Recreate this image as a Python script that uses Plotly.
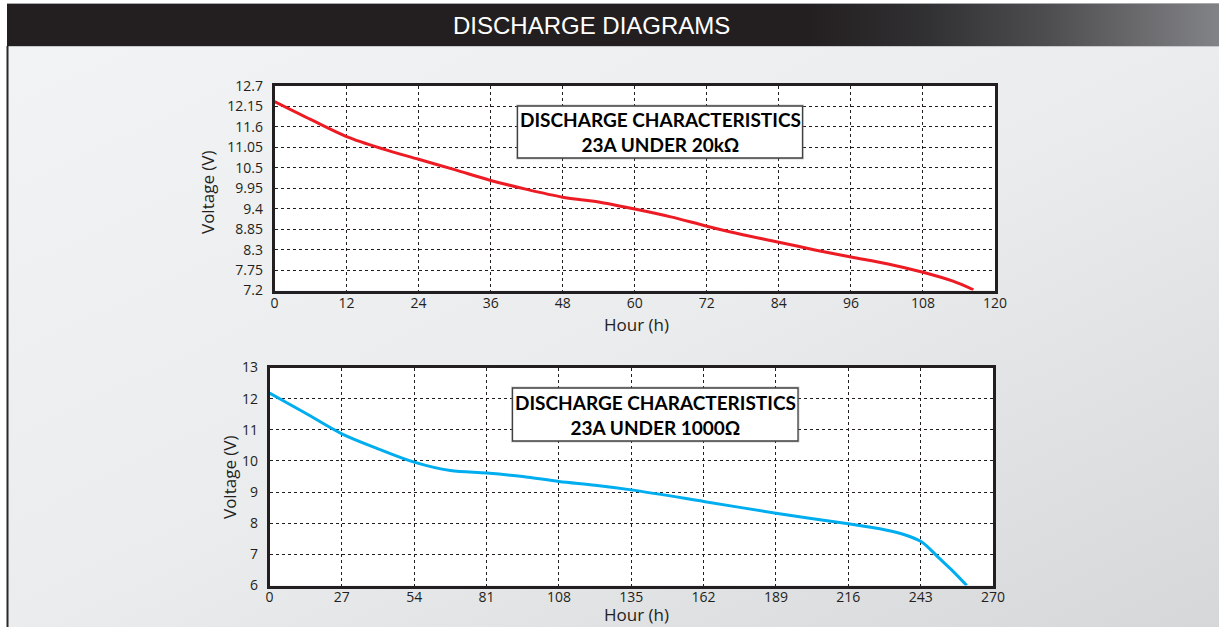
import base64
import plotly.graph_objects as go

# ---------------- data ----------------
top_hours = [0, 6, 12, 18, 24, 30, 36, 42, 48, 51, 54, 60, 66, 72, 78, 84, 90, 96, 102, 108, 113, 116.4]
top_volts = [12.28, 11.80, 11.34, 11.01, 10.73, 10.45, 10.16, 9.92, 9.71, 9.64, 9.58, 9.39, 9.18, 8.93, 8.70, 8.50, 8.29, 8.10, 7.92, 7.69, 7.45, 7.22]

bot_hours = [0, 13.5, 27, 40.5, 54, 67.5, 81, 94.5, 108, 121.5, 135, 162, 189, 216, 229.5, 237, 243, 246, 249.5, 255, 260.2]
bot_volts = [12.18, 11.53, 10.87, 10.39, 9.96, 9.69, 9.61, 9.50, 9.34, 9.22, 9.07, 8.70, 8.32, 7.98, 7.79, 7.63, 7.42, 7.21, 6.91, 6.46, 6.0]

top_xticks = [0, 12, 24, 36, 48, 60, 72, 84, 96, 108, 120]
top_yticks = [7.2, 7.75, 8.3, 8.85, 9.4, 9.95, 10.5, 11.05, 11.6, 12.15, 12.7]
top_ytext = ["7.2", "7.75", "8.3", "8.85", "9.4", "9.95", "10.5", "11.05", "11.6", "12.15", "12.7"]
bot_xticks = [0, 27, 54, 81, 108, 135, 162, 189, 216, 243, 270]
bot_yticks = [6, 7, 8, 9, 10, 11, 12, 13]

page_title = "DISCHARGE DIAGRAMS"
top_box = ["DISCHARGE CHARACTERISTICS", "23A UNDER 20kΩ"]
bot_box = ["DISCHARGE CHARACTERISTICS", "23A UNDER 1000Ω"]
x_title = "Hour (h)"
y_title = "Voltage (V)"

W, H = 1219, 627

# ---------------- background artwork (svg) ----------------
svg = f"""<svg xmlns="http://www.w3.org/2000/svg" width="{W}" height="{H}" viewBox="0 0 {W} {H}" preserveAspectRatio="none">
<defs>
<linearGradient id="bg" x1="0" y1="0" x2="1" y2="1">
<stop offset="0" stop-color="#f2f3f5"/><stop offset="0.5" stop-color="#ebecee"/><stop offset="1" stop-color="#d6d7d9"/>
</linearGradient>
<linearGradient id="hd" x1="0" y1="0" x2="1" y2="0">
<stop offset="0" stop-color="#231f20"/><stop offset="0.66" stop-color="#231f20"/>
<stop offset="0.76" stop-color="#313032"/><stop offset="0.86" stop-color="#4e4e50"/><stop offset="1" stop-color="#828386"/>
</linearGradient>
</defs>
<rect width="{W}" height="{H}" fill="#ffffff"/>
<rect x="7" y="46" width="{W-7}" height="{H-46}" fill="url(#bg)"/>
<rect x="7" y="3" width="{W-7}" height="43" fill="url(#hd)"/>
<line x1="7" y1="3.5" x2="{W}" y2="3.5" stroke="#a7a9ac" stroke-width="1"/>
<line x1="7" y1="46.5" x2="{W}" y2="46.5" stroke="#c7c8ca" stroke-width="1"/>
<line x1="7.5" y1="46" x2="7.5" y2="{H}" stroke="#2b2829" stroke-width="2"/>
</svg>"""
svg_uri = "data:image/svg+xml;base64," + base64.b64encode(svg.encode("utf-8")).decode("ascii")


def px(x):
    return x / W


def py(y):
    return 1 - y / H


fig = go.Figure()

fig.add_trace(go.Scatter(x=top_hours, y=top_volts, mode="lines",
                         line=dict(color="#ed1c24", width=3, shape="spline", smoothing=0.9),
                         xaxis="x", yaxis="y", showlegend=False, hoverinfo="skip"))
fig.add_trace(go.Scatter(x=bot_hours, y=bot_volts, mode="lines",
                         line=dict(color="#00aeef", width=3, shape="spline", smoothing=0.9),
                         xaxis="x2", yaxis="y2", showlegend=False, hoverinfo="skip"))

tick_font = dict(family="Open Sans, Noto Sans, sans-serif", size=14, color="#231f20")
common = dict(showline=True, linecolor="#231f20", linewidth=2.5, mirror=True,
              showgrid=True, gridcolor="#231f20", gridwidth=1, griddash="dot",
              zeroline=False, ticks="outside", tickcolor="rgba(0,0,0,0)",
              tickfont=tick_font, fixedrange=True)

# plot areas (pixels)
T = dict(l=274.5, r=995, t=86, b=290.5)
B = dict(l=269.5, r=993, t=367.5, b=585.5)

fig.update_layout(
    autosize=True,
    margin=dict(l=0, r=0, t=0, b=0, autoexpand=False),
    paper_bgcolor="#ffffff", plot_bgcolor="#ffffff",
    xaxis=dict(domain=[px(T["l"]), px(T["r"])], range=[0, 120], tickvals=top_xticks,
               anchor="y", ticklen=0, ticklabelstandoff=-2, **common),
    yaxis=dict(domain=[py(T["b"]), py(T["t"])], range=[7.2, 12.7], tickvals=top_yticks,
               ticktext=top_ytext, anchor="x", ticklen=6, **common),
    xaxis2=dict(domain=[px(B["l"]), px(B["r"])], range=[0, 270], tickvals=bot_xticks,
                anchor="y2", ticklen=0, ticklabelstandoff=-3, **common),
    yaxis2=dict(domain=[py(B["b"]), py(B["t"])], range=[6, 13], tickvals=bot_yticks,
                anchor="x2", ticklen=6, **common),
    images=[dict(source=svg_uri, xref="paper", yref="paper", x=0, y=1, sizex=1, sizey=1,
                 xanchor="left", yanchor="top", sizing="stretch", layer="below")],
)

shapes = []
for xr, yr in (("x", "y"), ("x2", "y2")):
    shapes.append(dict(type="rect", xref=f"{xr} domain", yref=f"{yr} domain", x0=0, x1=1, y0=0, y1=1,
                       fillcolor="#ffffff", line=dict(width=0), layer="below"))


def add_box(xr, yr, x0, x1, y0, y1, lines):
    shapes.append(dict(type="rect", xref=f"{xr} domain", yref=f"{yr} domain",
                       x0=x0, x1=x1, y0=y0, y1=y1,
                       fillcolor="rgba(0,0,0,0)", line=dict(color="rgba(120,120,120,0.35)", width=3),
                       layer="above"))
    shapes.append(dict(type="rect", xref=f"{xr} domain", yref=f"{yr} domain",
                       x0=x0, x1=x1, y0=y0, y1=y1,
                       fillcolor="#ffffff", line=dict(color="#414042", width=1.3), layer="above"))
    fig.add_annotation(xref=f"{xr} domain", yref=f"{yr} domain", x=(x0 + x1) / 2, y=(y0 + y1) / 2,
                       text="<br>".join(f"<b>{s}</b>" for s in lines), showarrow=False,
                       font=dict(family="Lato, Open Sans, sans-serif", size=19, color="#000000"),
                       xanchor="center", yanchor="middle", align="center")


def dom_x(p, A):
    return (p - A["l"]) / (A["r"] - A["l"])


def dom_y(p, A):
    return (A["b"] - p) / (A["b"] - A["t"])


add_box("x", "y", dom_x(517.5, T), dom_x(802.5, T), dom_y(158, T), dom_y(106, T), top_box)
add_box("x2", "y2", dom_x(512.5, B), dom_x(798, B), dom_y(441, B), dom_y(388, B), bot_box)

fig.update_layout(shapes=shapes)

title_font = dict(family="Open Sans, Noto Sans, sans-serif", size=17, color="#231f20")
fig.add_annotation(xref="paper", yref="paper", x=px(591), y=py(25), text=page_title, showarrow=False,
                   font=dict(family="Liberation Sans, Arial, sans-serif", size=24, color="#ffffff"),
                   xanchor="center", yanchor="middle")
fig.add_annotation(xref="paper", yref="paper", x=px(636), y=py(324), text=x_title, showarrow=False,
                   font=title_font, xanchor="center", yanchor="middle", borderpad=0)
fig.add_annotation(xref="paper", yref="paper", x=px(636), y=py(614), text=x_title, showarrow=False,
                   font=title_font, xanchor="center", yanchor="middle", borderpad=0)
fig.add_annotation(xref="paper", yref="paper", x=px(207), y=py(192), text=y_title, showarrow=False,
                   font=title_font, textangle=-90, xanchor="center", yanchor="middle")
fig.add_annotation(xref="paper", yref="paper", x=px(229), y=py(477), text=y_title, showarrow=False,
                   font=title_font, textangle=-90, xanchor="center", yanchor="middle")

post = ("document.documentElement.style.margin='0';document.documentElement.style.padding='0';"
        "document.body.style.margin='0';document.body.style.padding='0';document.body.style.overflow='hidden';"
        "var gd=document.getElementById('{plot_id}');gd.style.width='100vw';gd.style.height='100vh';"
        "Plotly.Plots.resize(gd);")

fig.write_html("out.html", config={"displayModeBar": False, "responsive": True},
               default_width="100vw", default_height="100vh", post_script=post)
